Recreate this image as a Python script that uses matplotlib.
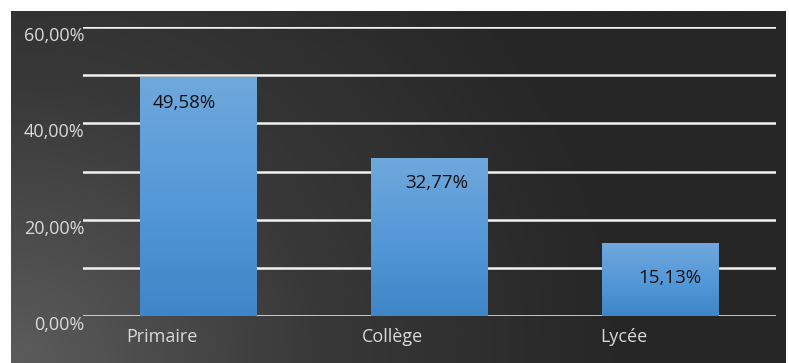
import numpy as np
import matplotlib.pyplot as plt
from matplotlib.colors import LinearSegmentedColormap

categories = ['Primaire', 'Collège', 'Lycée']
shares = [49.58, 32.77, 15.13]
y_ticks = [0, 20, 40, 60]

plt.rcParams['font.family'] = ['Open Sans', 'DejaVu Sans']

fig = plt.figure(figsize=(7.89, 3.63), dpi=100, facecolor='white')

# dark panel with a soft radial glow from the lower left corner
bg = fig.add_axes([11 / 789, 0, 775 / 789, 352 / 363])
bg.set_axis_off()
yy, xx = np.mgrid[0:1:200j, 0:1:400j]
dist = np.sqrt((xx * 2.0) ** 2 + (1 - yy) ** 2)
dist = np.clip(dist / 1.6, 0, 1)
bg_cmap = LinearSegmentedColormap.from_list('bg', ['#5c5c5c', '#383838', '#262626'])
bg.imshow(dist, cmap=bg_cmap, aspect='auto', extent=[0, 1, 0, 1], origin='upper')
bg.set_xlim(0, 1)
bg.set_ylim(0, 1)

ax = fig.add_axes([83 / 789, 47 / 363, 693 / 789, 289 / 363])
ax.patch.set_alpha(0)
x = np.arange(len(categories))

for gy in range(0, 61, 10):
    ax.axhline(gy, color='#f2f2f2', lw=1.8, zorder=1)

bars = ax.bar(x, shares, width=0.506, color='none', zorder=3)
bar_cmap = LinearSegmentedColormap.from_list('bar', ['#6fa8dc', '#5599d8', '#3f86c8'])
grad = np.linspace(0, 1, 100).reshape(-1, 1)
for b in bars:
    x0, y0 = b.get_x(), b.get_y()
    im = ax.imshow(grad, cmap=bar_cmap, aspect='auto', origin='upper',
                   extent=[x0, x0 + b.get_width(), y0, y0 + b.get_height()], zorder=3)
    im.set_clip_path(b)
ax.set_xlim(-0.5, len(categories) - 0.5)
ax.set_ylim(0, 60)

# value labels sit a little inside the top of each bar
label_dx = [-0.06, 0.03, 0.04]
label_dy = [5.4, 5.2, 7.2]
for i, v in enumerate(shares):
    ax.text(x[i] + label_dx[i], v - label_dy[i], f'{v:.2f}%'.replace('.', ','),
            ha='center', va='center', fontsize=13.5, color='#111111', zorder=5)

ax.set_yticks(y_ticks)
ax.set_yticklabels([f'{t:.2f}%'.replace('.', ',') for t in y_ticks])
ax.set_xticks(x - 0.16)
ax.set_xticklabels(categories)
ax.tick_params(length=0, colors='#d9d9d9', labelsize=13)
ax.tick_params(axis='y', pad=-1)
ax.tick_params(axis='x', pad=9)
for lbl in ax.get_yticklabels():
    lbl.set_verticalalignment('top')
for s in ax.spines.values():
    s.set_visible(False)

plt.savefig('out.png', dpi=100, facecolor='white')
